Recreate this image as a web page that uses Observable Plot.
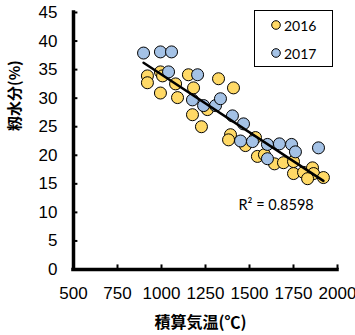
<!DOCTYPE html>
<html><head><meta charset="utf-8">
<script src="https://cdn.jsdelivr.net/npm/d3@7"></script>
<script src="https://cdn.jsdelivr.net/npm/@observablehq/plot@0.6"></script>
<style>
body{margin:0;background:#fff;}
#wrap{position:relative;width:355px;height:335px;}
#legend{position:absolute;left:254px;top:10px;width:77px;height:55px;border:1px solid #000;background:#fff;font-family:Lato,sans-serif;font-size:14px;color:#000;}
.item{position:absolute;left:16px;height:16px;display:flex;align-items:center;}
.item svg{margin-right:3px;}
</style></head><body><div id="wrap"></div>
<script>
const years = ["2016", "2017"];
const colors = ["#FFD966", "#A4C2E6"];
const x2016 = [920, 920, 994, 1006, 1080, 994, 1091, 1153, 1182, 1324, 1409, 1261, 1176, 1227, 1392, 1381, 1477, 1534, 1545, 1585, 1642, 1693, 1750, 1750, 1807, 1858, 1864, 1830, 1920];
const y2016 = [33.9, 32.7, 34.6, 33.9, 32.5, 30.9, 30.1, 34.1, 31.8, 33.4, 31.8, 28.0, 27.1, 25.0, 23.6, 22.7, 21.7, 23.1, 19.8, 20.1, 18.5, 18.7, 18.9, 16.8, 17.0, 17.8, 16.8, 15.9, 16.1];
const x2017 = [898, 994, 1057, 1040, 1205, 1176, 1239, 1307, 1335, 1403, 1466, 1449, 1517, 1602, 1670, 1739, 1761, 1892, 1602];
const y2017 = [37.9, 38.1, 38.1, 34.6, 34.1, 29.7, 28.7, 28.7, 29.9, 26.9, 25.5, 22.5, 22.4, 21.9, 22.0, 21.9, 20.6, 21.3, 19.4];
const xTicks = [500, 750, 1000, 1250, 1500, 1750, 2000];
const yTicks = [0, 5, 10, 15, 20, 25, 30, 35, 40, 45];
const xLabel = "積算気温(℃)";
const yLabel = "籾水分(%)";
const r2Text = "R² = 0.8598";

const data = [
  ...x2016.map((x, i) => ({year: years[0], x, y: y2016[i]})),
  ...x2017.map((x, i) => ({year: years[1], x, y: y2017[i]}))
];

const chart = Plot.plot({
  width: 355, height: 335,
  marginLeft: 73, marginRight: 18, marginTop: 12, marginBottom: 66,
  x: {domain: [500, 2000]},
  y: {domain: [0, 45]},
  color: {domain: years, range: colors},
  style: {fontFamily: "'Liberation Sans', Arial, sans-serif", fontSize: "17px", color: "#000", background: "#fff"},
  marks: [
    Plot.axisX({ticks: xTicks, tickSize: 0, tickPadding: 17, tickFormat: d => String(d), fontSize: 17, label: null}),
    Plot.axisY({ticks: yTicks, tickSize: 0, tickPadding: 16, tickFormat: d => String(d), fontSize: 17, label: null}),
    Plot.ruleX(xTicks.slice(1), {y1: 0, y2: 0.8, strokeWidth: 2, stroke: "#000"}),
    Plot.ruleY(yTicks.slice(1), {x1: 500, x2: 525, strokeWidth: 2, stroke: "#000"}),
    Plot.ruleY([0], {stroke: "#000", strokeWidth: 3.5, strokeLinecap: "square"}),
    Plot.ruleX([500], {stroke: "#000", strokeWidth: 3.5, strokeLinecap: "square"}),
    Plot.dot(data, {x: "x", y: "y", fill: "year", r: 6, stroke: "#000", strokeWidth: 1, fillOpacity: 1}),
    Plot.linearRegressionY(data, {x: "x", y: "y", stroke: "#000", strokeWidth: 2.5, ci: 0}),
    Plot.text([yLabel], {frameAnchor: "left", dx: -58, dy: -10, rotate: -90, fontSize: 15, fontWeight: "bold", fontFamily: "'Noto Sans CJK JP', sans-serif"}),
    Plot.text([xLabel], {frameAnchor: "bottom", dx: -5, dy: 53, lineAnchor: "middle", fontSize: 16, fontWeight: "bold", fontFamily: "'Noto Sans CJK JP', sans-serif"}),
    Plot.text([r2Text], {frameAnchor: "top-left", dx: 165, dy: 193, textAnchor: "start", lineAnchor: "middle", fontSize: 14.5, fontFamily: "Lato, sans-serif"})
  ]
});
const wrap = document.getElementById("wrap");
wrap.appendChild(chart);

const legend = document.createElement("div");
legend.id = "legend";
years.forEach((yr, i) => {
  const item = document.createElement("div");
  item.className = "item";
  item.style.top = (6 + i * 28) + "px";
  item.innerHTML = `<svg width="10" height="10"><circle cx="5" cy="5" r="4.3" fill="${colors[i]}" stroke="#000" stroke-width="1"/></svg><span>${yr}</span>`;
  legend.appendChild(item);
});
wrap.appendChild(legend);
</script>
</body></html>
